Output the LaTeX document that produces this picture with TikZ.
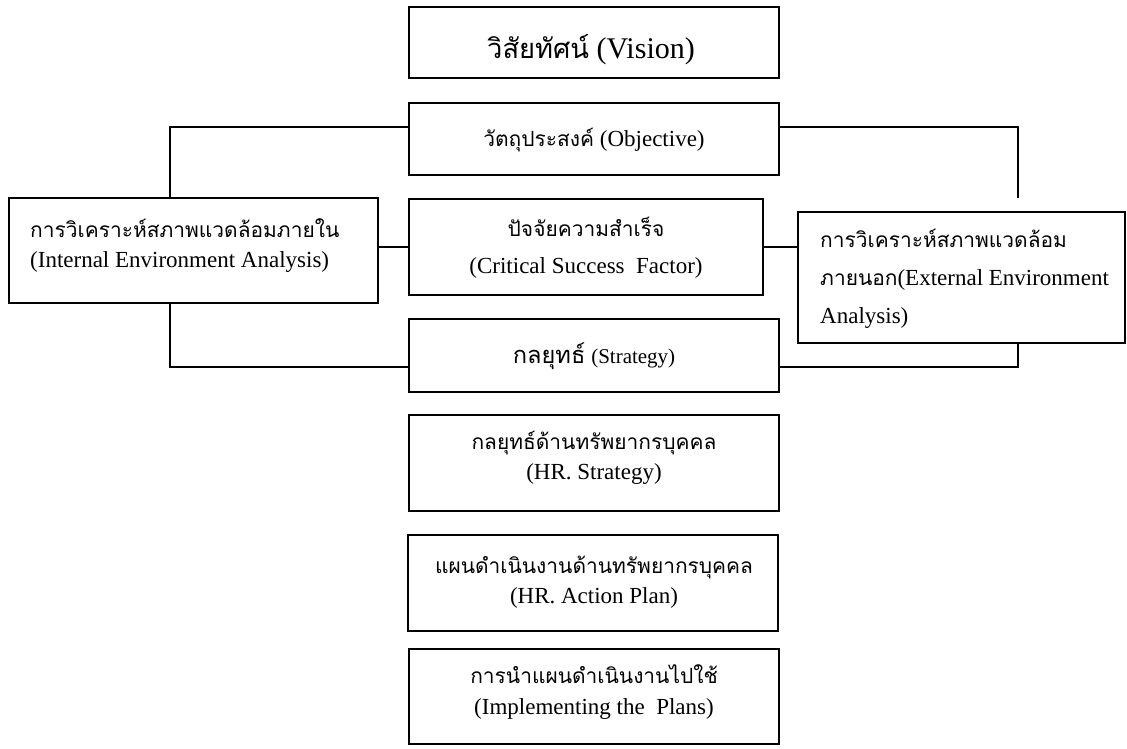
\documentclass[tikz,border=0pt]{standalone}
\usepackage{fontspec}
\setmainfont{Liberation Serif}
\newfontfamily\thaifont[Script=Thai,Scale=0.91]{Loma}
\usetikzlibrary{calc}
\newcommand\thtxt[1]{{\thaifont #1}}
\begin{document}
\begin{tikzpicture}[x=1pt,y=-1pt,
  box/.style={draw, line width=1.5pt, rectangle, inner sep=0pt},
  lbl/.style={inner sep=0pt, align=center, font=\fontsize{23}{30}\selectfont},
  wire/.style={line width=1.5pt}]
\useasboundingbox (0,0) rectangle (1127,748);

% boxes
\node[box, minimum width=370pt, minimum height=71pt] (vis) at (594,42.5) {};
\node[box, minimum width=370pt, minimum height=72pt] (obj) at (594,139) {};
\node[box, minimum width=354pt, minimum height=96pt] (csf) at (586,247) {};
\node[box, minimum width=370pt, minimum height=73pt] (str) at (594,355.5) {};
\node[box, minimum width=370pt, minimum height=96pt] (hrs) at (594,463) {};
\node[box, minimum width=370pt, minimum height=96pt] (hap) at (593,583) {};
\node[box, minimum width=370pt, minimum height=95pt] (imp) at (594,696.5) {};
\node[box, minimum width=369pt, minimum height=105pt] (int) at (193.5,250.5) {};
\node[box, minimum width=327pt, minimum height=131pt] (ext) at (961.5,277.5) {};

% texts
\node[lbl, font=\fontsize{30}{34}\selectfont] (visT) at (591,50) {\thtxt{วิสัยทัศน์} (Vision)};
\node[lbl] (objT) at (594,140) {\thtxt{วัตถุประสงค์} (Objective)};
\node[lbl, font=\fontsize{23}{37}\selectfont] (csfT) at (586,248) {\thtxt{ปัจจัยความสำเร็จ}\\(Critical Success\ \ Factor)};
\node[lbl] (strT) at (594,356) {{\fontsize{26}{30}\selectfont\thtxt{กลยุทธ์}} {\fontsize{21}{24}\selectfont(Strategy)}};
\node[lbl] (hrsT) at (594,458) {\thtxt{กลยุทธ์ด้านทรัพยากรบุคคล}\\(HR. Strategy)};
\node[lbl] (hapT) at (594,582) {\thtxt{แผนดำเนินงานด้านทรัพยากรบุคคล}\\(HR. Action Plan)};
\node[lbl, font=\fontsize{23}{31}\selectfont] (impT) at (594,692) {\thtxt{การนำแผนดำเนินงานไปใช้}\\(Implementing the\ \ Plans)};
\node[lbl, align=left, anchor=west] (intT) at (30,246) {\thtxt{การวิเคราะห์สภาพแวดล้อมภายใน}\\(Internal Environment Analysis)};
\node[lbl, align=left, anchor=west, font=\fontsize{23}{38}\selectfont] (extT) at (820,279) {\thtxt{การวิเคราะห์สภาพแวดล้อม}\\\thtxt{ภายนอก}(External Environment\\Analysis)};

% connectors
\coordinate (extTop) at ([xshift=56.5pt, yshift=13pt]ext.north);
\draw[wire] ([xshift=-23.5pt]int.north) |- ([yshift=12pt]obj.west);
\draw[wire] ([yshift=12pt]obj.east) -| (extTop);
\draw[wire] (csf.west) -- (csf.west -| int.east);
\draw[wire] (csf.east) -- (csf.east -| ext.west);
\draw[wire] ([xshift=-23.5pt]int.south) |- ([yshift=-11.5pt]str.west);
\draw[wire] ([xshift=56.5pt]ext.south) |- ([yshift=-11.5pt]str.east);
\end{tikzpicture}
\end{document}
